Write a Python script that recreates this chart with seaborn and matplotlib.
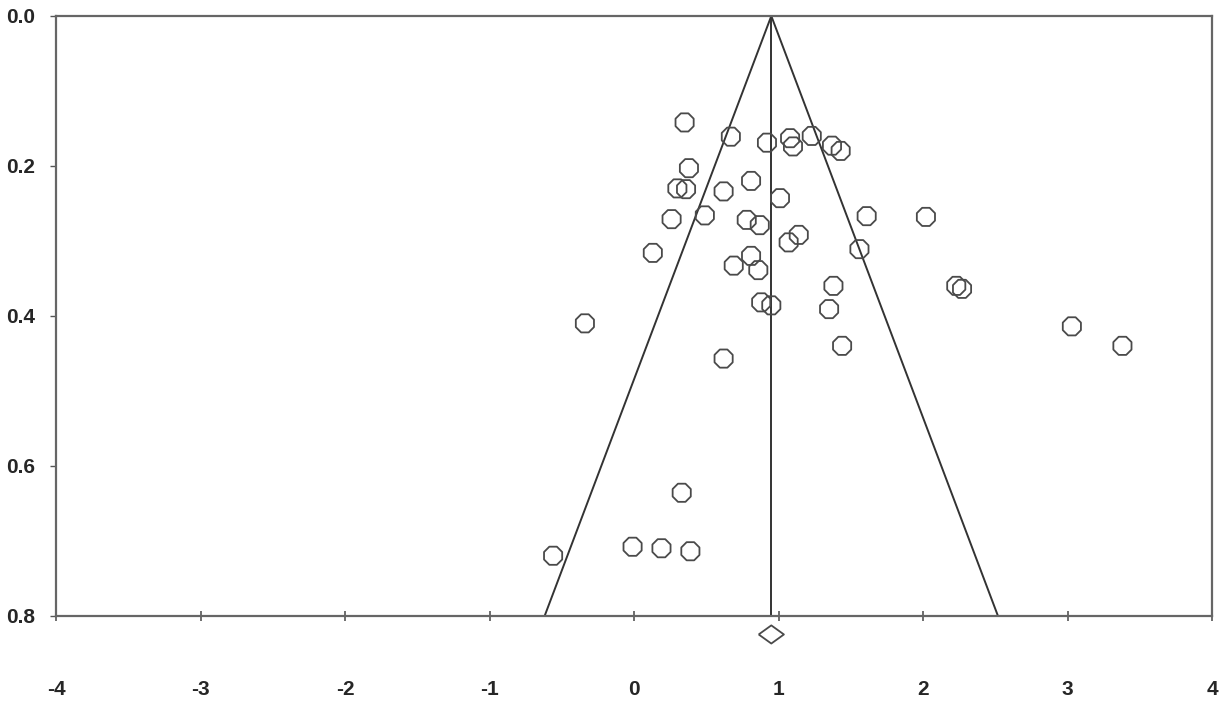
import numpy as np
import pandas as pd
import matplotlib
matplotlib.use("Agg")
import matplotlib.pyplot as plt
import seaborn as sns

# Data: effect size (x) and standard error (y) per study
effect = [0.35, 0.67, 0.92, 1.08, 1.10, 1.23, 1.37, 1.43,
          0.38, 0.30, 0.36, 0.62, 0.81, 1.01, 0.26, 0.49,
          0.78, 0.87, 1.61, 2.02, 0.13, 0.69, 0.81, 0.86,
          1.07, 1.14, 1.56, 2.23, 2.27, 1.38, 0.88, 0.95,
          1.35, -0.34, 3.03, 3.38, 1.44, 0.62, 0.33, -0.56,
          -0.01, 0.19, 0.39]
std_err = [0.142, 0.161, 0.169, 0.163, 0.174, 0.160, 0.173, 0.180,
           0.203, 0.230, 0.231, 0.234, 0.220, 0.243, 0.271, 0.266,
           0.272, 0.279, 0.267, 0.268, 0.316, 0.333, 0.320, 0.339,
           0.302, 0.292, 0.311, 0.360, 0.364, 0.360, 0.382, 0.386,
           0.391, 0.410, 0.414, 0.440, 0.440, 0.457, 0.636, 0.720,
           0.708, 0.710, 0.714]

pooled = 0.95
pooled_y = 0.825
se_max = 0.8
xticks = [-4, -3, -2, -1, 0, 1, 2, 3, 4]
yticks = [0.0, 0.2, 0.4, 0.6, 0.8]

sns.set_style("white")
plt.rcParams['font.family'] = ['Liberation Sans', 'DejaVu Sans']

df = pd.DataFrame({"effect": effect, "se": std_err})

fig = plt.figure(figsize=(12.26, 7.04), dpi=100)
ax = fig.add_axes([0.0457, 0.1254, 0.9429, 0.8519])

# funnel (pseudo 95% limits) and pooled line
ax.plot([pooled - 1.96 * se_max, pooled, pooled + 1.96 * se_max],
        [se_max, 0, se_max], color='#333333', lw=1.4, zorder=2)
ax.plot([pooled, pooled], [0, se_max], color='#333333', lw=1.4, zorder=2)

sns.scatterplot(data=df, x="effect", y="se", ax=ax, marker='8', s=200,
                facecolor='none', edgecolor='#4a4a4a', linewidth=1.3,
                zorder=3, legend=False)

# pooled estimate diamond below axis
diamond = [(-1, 0), (0, 0.72), (1, 0), (0, -0.72), (-1, 0)]
ax.scatter([pooled], [pooled_y], marker=diamond, s=330, facecolor='none',
           edgecolor='#4a4a4a', linewidth=1.3, clip_on=False, zorder=4)

ax.set_xlim(-4, 4)
ax.set_ylim(0.8, 0.0)
ax.set_xticks(xticks)
ax.set_xticklabels([str(t) for t in xticks])
ax.set_yticks(yticks)
ax.set_yticklabels([f"{t:.1f}" for t in yticks])
ax.set_xlabel("")
ax.set_ylabel("")

for sp in ax.spines.values():
    sp.set_color('#666666')
    sp.set_linewidth(1.6)

ax.tick_params(axis='x', bottom=True, direction='inout', length=7, width=1.2,
               color='#555555', pad=43, labelsize=15)
ax.tick_params(axis='y', left=True, direction='out', length=4, width=1.0,
               color='#555555', pad=11, labelsize=15)
for lab in ax.get_xticklabels() + ax.get_yticklabels():
    lab.set_fontweight('bold')

fig.savefig("out.png", dpi=100)
plt.close(fig)
